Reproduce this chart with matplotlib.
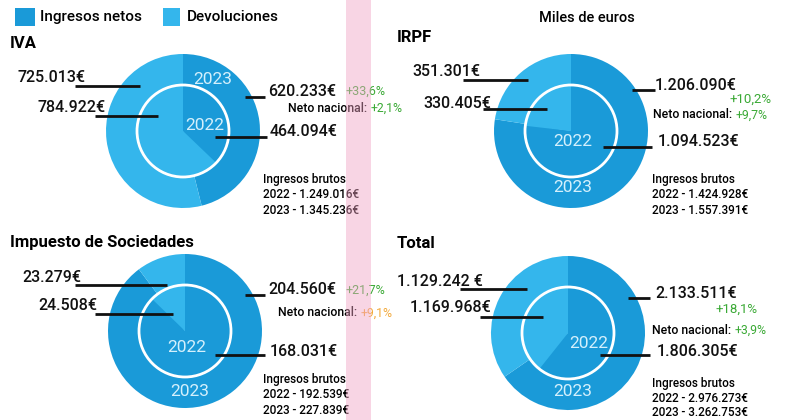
import matplotlib.pyplot as plt
from matplotlib.patches import Circle, Rectangle

plt.rcParams['font.family'] = ['Roboto', 'DejaVu Sans']

# Data (miles de euros)
titles = ['IVA', 'IRPF', 'Impuesto de Sociedades', 'Total']
netos_2023 = [620233, 1206090, 204560, 2133511]
devol_2023 = [725013, 351301, 23279, 1129242]
netos_2022 = [464094, 1094523, 168031, 1806305]
devol_2022 = [784922, 330405, 24508, 1169968]
lbl_netos_2023 = ['620.233€', '1.206.090€', '204.560€', '2.133.511€']
lbl_devol_2023 = ['725.013€', '351.301€', '23.279€', '1.129.242 €']
lbl_netos_2022 = ['464.094€', '1.094.523€', '168.031€', '1.806.305€']
lbl_devol_2022 = ['784.922€', '330.405€', '24.508€', '1.169.968€']
var_netos = ['+33,6%', '+10,2%', '+21,7%', '+18,1%']
neto_nacional = ['+2,1%', '+9,7%', '+9,1%', '+3,9%']
brutos_2022 = ['1.249.016€', '1.424.928€', '192.539€', '2.976.273€']
brutos_2023 = ['1.345.236€', '1.557.391€', '227.839€', '3.262.753€']

C_NET = '#1a9ad8'
C_DEV = '#34b6ec'
GREEN = '#3aa935'
ORANGE = '#f2a93b'

fig = plt.figure(figsize=(7.86, 4.2), dpi=100)
ax = fig.add_axes([0, 0, 1, 1])
H = 420


def Y(py):
    return H - py


# panel layout (pixel positions from the reference)
centers = [(183, 131), (571, 131), (185, 331), (568, 333)]
title_pos = [(10, 44), (397, 37), (10, 242), (397, 243)]
dev23_txt = [(18, 77), (412, 72), (22, 277), (397, 282)]
dev23_line = [(75, 140, 86), (463, 528, 80), (75, 167, 285), (460, 527, 289)]
dev22_txt = [(38, 107), (423, 103), (38, 305), (410, 308)]
dev22_line = [(95, 158, 116), (483, 547, 109), (95, 173, 314), (480, 543, 317)]
net23_txt = [(268, 91), (655, 86), (268, 290), (655, 293)]
net23_line = [(245, 265, 97), (632, 655, 90), (245, 265, 295), (628, 650, 298)]
net22_txt = [(270, 132), (658, 142), (270, 352), (657, 352)]
net22_line = [(215, 267, 137), (603, 652, 147), (215, 265, 355), (600, 650, 355)]
yr23_pos = [(213, 80), (573, 187), (190, 392), (573, 392)]
yr22_pos = [(205, 125), (573, 142), (187, 347), (589, 343)]
brutos_pos = [(263, 180), (652, 180), (263, 380), (652, 383)]

R_OUT, R_IN = 77, 46

for i in range(4):
    cx, cy = centers[i]
    ax.pie([netos_2023[i], devol_2023[i]], colors=[C_NET, C_DEV], startangle=90,
           counterclock=False, radius=R_OUT, center=(cx, Y(cy)),
           wedgeprops=dict(linewidth=0))
    ax.pie([netos_2022[i], devol_2022[i]], colors=[C_NET, C_DEV], startangle=90,
           counterclock=False, radius=R_IN, center=(cx, Y(cy)),
           wedgeprops=dict(linewidth=0))
    ax.add_patch(Circle((cx, Y(cy)), R_IN, fill=False, ec='white', lw=2, zorder=3))

    ax.text(yr23_pos[i][0], Y(yr23_pos[i][1]), '2023', color='#d4f0fc', fontsize=12.5,
            ha='center', va='center', zorder=4)
    ax.text(yr22_pos[i][0], Y(yr22_pos[i][1]), '2022', color='#d4f0fc', fontsize=12.5,
            ha='center', va='center', zorder=4)

    tx, ty = title_pos[i]
    ax.text(tx, Y(ty), titles[i], fontsize=12, fontweight='bold', ha='left', va='center')

    for (lx, ly), (x0, x1, yy), lab in [(dev23_txt[i], dev23_line[i], lbl_devol_2023[i]),
                                        (dev22_txt[i], dev22_line[i], lbl_devol_2022[i]),
                                        (net23_txt[i], net23_line[i], lbl_netos_2023[i]),
                                        (net22_txt[i], net22_line[i], lbl_netos_2022[i])]:
        ax.text(lx, Y(ly), lab, fontsize=11.5, fontweight='medium', ha='left', va='center',
                color='#111111', zorder=5)
        ax.plot([x0, x1], [Y(yy), Y(yy)], color='#111111', lw=2, zorder=5,
                solid_capstyle='butt')

    bx, by = brutos_pos[i]
    ax.text(bx, Y(by), 'Ingresos brutos', fontsize=8.5, fontweight='medium', ha='left', va='center')
    ax.text(bx, Y(by + 15), '2022 - ' + brutos_2022[i], fontsize=8.5, fontweight='medium',
            ha='left', va='center')
    ax.text(bx, Y(by + 30), '2023 - ' + brutos_2023[i], fontsize=8.5, fontweight='medium',
            ha='left', va='center')

# variation labels
ax.text(345, Y(91), var_netos[0], fontsize=9, color=GREEN, ha='left', va='center')
ax.text(772, Y(99), var_netos[1], fontsize=9.5, color=GREEN, ha='right', va='center')
ax.text(345, Y(290), var_netos[2], fontsize=9, color=GREEN, ha='left', va='center')
ax.text(758, Y(309), var_netos[3], fontsize=9.5, color=GREEN, ha='right', va='center')

nn_pos = [(288, 108), (653, 115), (278, 313), (652, 330)]
nn_col = [GREEN, GREEN, ORANGE, GREEN]
for i in range(4):
    x, y = nn_pos[i]
    t = ax.text(x, Y(y), 'Neto nacional: ', fontsize=8.8, fontweight='medium',
                ha='left', va='center')
    ax.annotate(neto_nacional[i], xycoords=t, xy=(1, 0.5), va='center', ha='left',
                fontsize=8.8, color=nn_col[i])

# legend
ax.add_patch(Rectangle((15, Y(26)), 20, 18, color=C_NET, lw=0))
ax.text(40, Y(17), 'Ingresos netos', fontsize=11, fontweight='medium', ha='left', va='center')
ax.add_patch(Rectangle((163, Y(26)), 17, 18, color=C_DEV, lw=0))
ax.text(187, Y(17), 'Devoluciones', fontsize=11, fontweight='medium', ha='left', va='center')
ax.text(587, Y(18), 'Miles de euros', fontsize=10.5, fontweight='medium', ha='center', va='center')

# paper fold strip
ax.axvspan(346, 371, color='#f0a3c4', alpha=0.45, lw=0, zorder=6)

ax.set_xlim(0, 786)
ax.set_ylim(0, H)
ax.set_aspect('auto')
ax.axis('off')
fig.savefig('out.png', dpi=100)
